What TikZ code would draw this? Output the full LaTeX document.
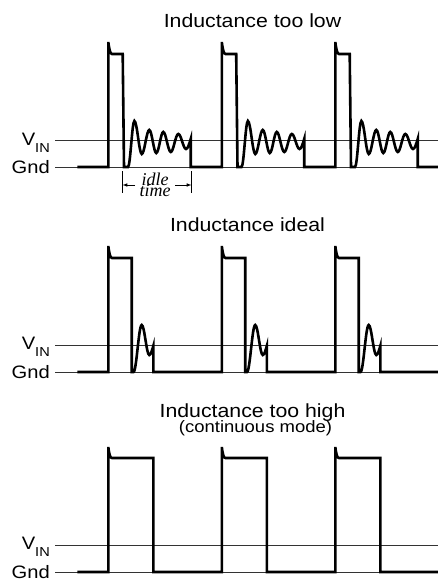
\documentclass[tikz,border=0pt]{standalone}
\usepackage{fontspec}
\usetikzlibrary{arrows.meta}
\newfontfamily\lab{Liberation Sans}
\newfontfamily\ser{Liberation Serif}
\newcommand{\wide}[1]{\scalebox{1.12}[1]{#1}}
\tikzset{
  wave/.style={line width=2.6pt, black},
  ref/.style={line width=1pt, black!80},
  dim/.style={line width=0.8pt, black},
  dimarrow/.style={line width=0.8pt, -{Latex[length=5pt,width=3.6pt]}},
  title/.style={inner sep=0pt, anchor=base, font=\lab\fontsize{19}{19}\selectfont},
  subtitle/.style={inner sep=0pt, anchor=base, font=\lab\fontsize{16.5}{16.5}\selectfont},
  lbl/.style={inner sep=0pt, anchor=base east, font=\lab\fontsize{18}{18}\selectfont},
  idl/.style={inner sep=0pt, anchor=base, font=\ser\itshape\fontsize{18}{18}\selectfont}
}
\newcommand{\vin}{\wide{V}\raisebox{-7pt}{\fontsize{13}{13}\selectfont\wide{IN}}}
\begin{document}
\begin{tikzpicture}[x=1pt,y=-1pt]
\useasboundingbox (0,0) rectangle (438,580);

% ---------------- Panel 1: too low ----------------
\node[title] (t1) at (252.5,27.7) {\wide{Inductance too low}};
\draw[ref] (55,141) coordinate (v1a) -- (438,141) coordinate (v1b);
\draw[ref] (55,167) coordinate (g1a) -- (438,167) coordinate (g1b);
\node[lbl] (lv1) at (50,145.5) {\vin};
\node[lbl] (lg1) at (50,173) {\wide{Gnd}};
\draw[wave] (77.3,167) \foreach \o in {0,113.5,227} {
  -- ({108.3+\o},167) -- ({108.3+\o},42)
  .. controls ({109.3+\o},50) and ({110.3+\o},54) .. ({112+\o},54)
  -- ({122.7+\o},54) -- ({124+\o},167) -- ({128+\o},167)
  cos ({131.2+\o},144) sin ({134.4+\o},121)
  cos ({138.1+\o},137.5) sin ({141.8+\o},154)
  cos ({145.5+\o},142) sin ({149.3+\o},130)
  cos ({152.8+\o},141.5) sin ({156.3+\o},153)
  cos ({159.8+\o},142.5) sin ({163.3+\o},132)
  cos ({167+\o},142) sin ({170.8+\o},152)
  cos ({174.5+\o},143) sin ({178.3+\o},134)
  cos ({182.2+\o},141.5) sin ({186+\o},149)
  cos ({190.7+\o},139) -- ({190.7+\o},167)
} -- (438,167);
% idle time
\coordinate (ta1) at (122.3,171);
\coordinate (tb1) at (122.3,193);
\coordinate (ta2) at (191.7,171);
\coordinate (tb2) at (191.7,193);
\draw[dim] (ta1) -- (tb1);
\draw[dim] (ta2) -- (tb2);
\coordinate (al) at (122.3,185);
\coordinate (ar) at (191.7,185);
\node[idl] (idle) at (155,185.7) {idle};
\node[idl] (time) at (155,196.7) {time};
\draw[dimarrow] (135,185) -- (al);
\draw[dimarrow] (175,185) -- (ar);

% ---------------- Panel 2: ideal ----------------
\node[title] (t2) at (247.5,231.7) {\wide{Inductance ideal}};
\draw[ref] (55,345) coordinate (v2a) -- (438,345) coordinate (v2b);
\draw[ref] (55,372) coordinate (g2a) -- (438,372) coordinate (g2b);
\node[lbl] (lv2) at (50,349.5) {\vin};
\node[lbl] (lg2) at (50,378) {\wide{Gnd}};
\draw[wave] (77.3,372) \foreach \o in {0,113.5,227} {
  -- ({108.3+\o},372) -- ({108.3+\o},246)
  .. controls ({109.3+\o},254) and ({110.3+\o},258) .. ({112+\o},258)
  -- ({131.7+\o},258) -- ({131.7+\o},372) -- ({133.5+\o},372)
  cos ({137.6+\o},348.5) sin ({141.7+\o},325)
  cos ({145.5+\o},340) sin ({149.3+\o},355)
  cos ({153.3+\o},346) -- ({153.3+\o},372)
} -- (438,372);

% ---------------- Panel 3: too high ----------------
\node[title] (t3) at (252.5,417.3) {\wide{Inductance too high}};
\node[subtitle] (t3b) at (255.5,432.7) {\wide{(continuous mode)}};
\draw[ref] (55,545) coordinate (v3a) -- (438,545) coordinate (v3b);
\draw[ref] (55,572) coordinate (g3a) -- (438,572) coordinate (g3b);
\node[lbl] (lv3) at (50,549.5) {\vin};
\node[lbl] (lg3) at (50,578) {\wide{Gnd}};
\draw[wave] (77.3,572) \foreach \o in {0,113.5,227} {
  -- ({108.3+\o},572) -- ({108.3+\o},447)
  .. controls ({109.3+\o},455) and ({110.3+\o},458) .. ({112+\o},458)
  -- ({153.3+\o},458) -- ({153.3+\o},572)
} -- (438,572);
\end{tikzpicture}
\end{document}
